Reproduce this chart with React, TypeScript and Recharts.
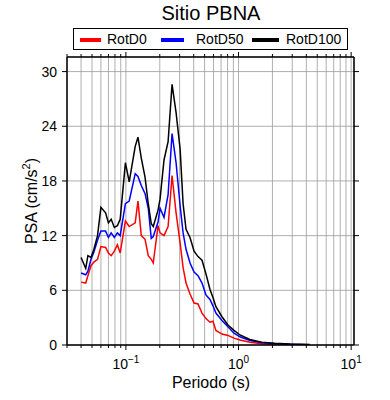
import React from 'react'
import { LineChart, Line, XAxis, YAxis, CartesianGrid } from 'recharts'

// periods (s) and spectral accelerations (cm/s²)
const periods = [
  0.04, 0.044, 0.046, 0.049, 0.052, 0.056, 0.06, 0.066, 0.07, 0.074, 0.079, 0.084, 0.089,
  0.099, 0.107, 0.121, 0.128, 0.137, 0.148, 0.158, 0.168, 0.175, 0.193, 0.201, 0.218, 0.237,
  0.257, 0.279, 0.303, 0.322, 0.342, 0.371, 0.403, 0.437, 0.474, 0.514, 0.558, 0.593, 0.63,
  0.713, 0.806, 0.911, 1.03, 1.26, 1.61, 2.1, 2.85, 4.29,
]
const rotD0 = [
  6.9, 6.8, 7.6, 8.7, 9.1, 9.4, 10.8, 10.7, 10.1, 9.8, 10.3, 11.0, 10.1,
  13.6, 13.0, 13.4, 15.8, 12.0, 11.6, 9.8, 9.4, 9.0, 13.1, 12.3, 12.0, 13.0,
  18.6, 14.5, 11.2, 8.5, 6.8, 5.6, 4.6, 4.5, 3.5, 2.9, 2.5, 2.6, 1.6,
  1.2, 1.05, 0.75, 0.55, 0.3, 0.15, 0.08, 0.04, 0.02,
]
const rotD50 = [
  7.9, 7.7, 8.1, 9.4, 10.2, 11.5, 12.5, 12.5, 11.8, 12.3, 11.8, 12.3, 12.0,
  15.5, 15.8, 18.8, 18.5, 17.5, 16.6, 15.0, 11.7, 11.9, 13.5, 15.0, 14.0, 16.5,
  23.2, 20.0, 15.3, 12.3, 10.5, 9.0, 8.0, 7.6, 6.8, 5.5, 5.0, 4.3, 3.5,
  2.7, 2.0, 1.3, 0.9, 0.5, 0.25, 0.14, 0.08, 0.04,
]
const rotD100 = [
  9.6, 8.4, 9.8, 9.6, 10.5, 12.0, 15.1, 14.5, 13.4, 13.8, 12.9, 13.1, 13.8,
  20.0, 17.9, 21.8, 22.8, 20.5, 18.4, 15.5, 13.3, 13.0, 14.8, 16.0, 20.3, 22.3,
  28.6, 25.5, 21.5, 15.5, 12.7, 11.8, 10.3, 9.7, 9.3, 7.8, 6.1, 5.2, 4.2,
  3.1, 2.2, 1.6, 1.1, 0.6, 0.3, 0.18, 0.1, 0.05,
]

const seriesNames = ['RotD0', 'RotD50', 'RotD100']
const seriesKeys = ['rotD0', 'rotD50', 'rotD100']
const seriesColors = ['#ff0000', '#0000ff', '#000000']

const xTicks = [
  0.03, 0.04, 0.05, 0.06, 0.07, 0.08, 0.09,
  0.1, 0.2, 0.3, 0.4, 0.5, 0.6, 0.7, 0.8, 0.9,
  1, 2, 3, 4, 5, 6, 7, 8, 9, 10,
]
const decadeExponents: Record<string, string> = { '0.1': '\u22121', '1': '0', '10': '1' }
const yTicks = [0, 6, 12, 18, 24, 30]

const data = periods.map((p, i) => ({
  period: p,
  rotD0: rotD0[i],
  rotD50: rotD50[i],
  rotD100: rotD100[i],
}))

const FONT = '"Liberation Sans", Arial, Helvetica, sans-serif'

function BottomTick(props: any) {
  const { x, y, payload } = props
  const exp = decadeExponents[String(payload.value)]
  return (
    <g>
      <line x1={x} x2={x} y1={y} y2={y + (exp ? 5 : 3)} stroke="#000" strokeWidth={1} />
      {exp && (
        <text x={x} y={y + 24} textAnchor="middle" fontSize={14} fill="#000" fontFamily={FONT}>
          10
          <tspan dy={-6} fontSize={10}>
            {exp}
          </tspan>
        </text>
      )}
    </g>
  )
}

function TopTick(props: any) {
  const { x, y, payload } = props
  const exp = decadeExponents[String(payload.value)]
  return <line x1={x} x2={x} y1={y} y2={y - (exp ? 5 : 3)} stroke="#000" strokeWidth={1} />
}

function RightTick(props: any) {
  const { x, y } = props
  return <line x1={x} x2={x + 5} y1={y} y2={y} stroke="#000" strokeWidth={1} />
}

export default function App() {
  const legendSpots = [
    { lineLeft: 80, lineWidth: 21, textLeft: 107 },
    { lineLeft: 161, lineWidth: 23, textLeft: 196 },
    { lineLeft: 252, lineWidth: 27, textLeft: 286 },
  ]

  return (
    <div style={{ position: 'absolute', left: 0, top: 0, width: 390, height: 400, fontFamily: FONT, background: '#fff' }}>
      <div style={{ position: 'absolute', left: 0, width: 422, top: 3, fontSize: 20, lineHeight: '20px', textAlign: 'center' }}>
        Sitio PBNA
      </div>

      <div
        style={{
          position: 'absolute',
          left: 73,
          top: 28,
          width: 275,
          height: 22,
          border: '1.5px solid #000',
          boxSizing: 'border-box',
        }}
      />
      {seriesNames.map((name, i) => (
        <React.Fragment key={name}>
          <div
            style={{
              position: 'absolute',
              left: legendSpots[i].lineLeft,
              top: 38,
              width: legendSpots[i].lineWidth,
              height: 4,
              background: seriesColors[i],
            }}
          />
          <div style={{ position: 'absolute', left: legendSpots[i].textLeft, top: 32, fontSize: 14, lineHeight: '14px' }}>
            {name}
          </div>
        </React.Fragment>
      ))}

      <LineChart
        width={390}
        height={400}
        data={data}
        margin={{ top: 47, right: 26, bottom: 25, left: 17 }}
        style={{ fontFamily: FONT }}
      >
        <CartesianGrid stroke="#9a9a9a" strokeWidth={0.8} />
        <XAxis
          dataKey="period"
          type="number"
          scale="log"
          domain={[0.03, 10.6]}
          allowDataOverflow
          ticks={xTicks}
          interval={0}
          tickLine={false}
          tickSize={0}
          tickMargin={0}
          height={30}
          tick={<BottomTick />}
          axisLine={{ stroke: '#000', strokeWidth: 1.5 }}
        />
        <XAxis
          xAxisId="top"
          orientation="top"
          dataKey="period"
          type="number"
          scale="log"
          domain={[0.03, 10.6]}
          allowDataOverflow
          ticks={xTicks}
          interval={0}
          tickLine={false}
          tickSize={0}
          tickMargin={0}
          height={10}
          tick={<TopTick />}
          axisLine={{ stroke: '#000', strokeWidth: 1.5 }}
        />
        <YAxis
          type="number"
          domain={[0, 31.6]}
          allowDataOverflow
          ticks={yTicks}
          interval={0}
          width={50}
          tickSize={5}
          tickMargin={5}
          tickLine={{ stroke: '#000' }}
          tick={{ fontSize: 14, fill: '#000', fontFamily: FONT }}
          axisLine={{ stroke: '#000', strokeWidth: 1.5 }}
        />
        <YAxis
          yAxisId="right"
          orientation="right"
          type="number"
          domain={[0, 31.6]}
          allowDataOverflow
          ticks={yTicks}
          interval={0}
          width={10}
          tickLine={false}
          tickSize={0}
          tickMargin={0}
          tick={<RightTick />}
          axisLine={{ stroke: '#000', strokeWidth: 1.5 }}
        />
        {seriesKeys.map((key, i) => (
          <Line
            key={key}
            type="linear"
            dataKey={key}
            name={seriesNames[i]}
            stroke={seriesColors[i]}
            strokeWidth={1.5}
            dot={false}
            activeDot={false}
            isAnimationActive={false}
          />
        ))}
      </LineChart>

      <div style={{ position: 'absolute', left: 0, width: 422, top: 375, fontSize: 16, lineHeight: '16px', textAlign: 'center' }}>
        Periodo (s)
      </div>
      <div
        style={{
          position: 'absolute',
          left: 29,
          top: 201,
          fontSize: 16,
          lineHeight: '16px',
          whiteSpace: 'nowrap',
          transform: 'translate(-50%, -50%) rotate(-90deg)',
        }}
      >
        PSA (cm/s<sup style={{ fontSize: 11 }}>2</sup>)
      </div>
    </div>
  )
}
